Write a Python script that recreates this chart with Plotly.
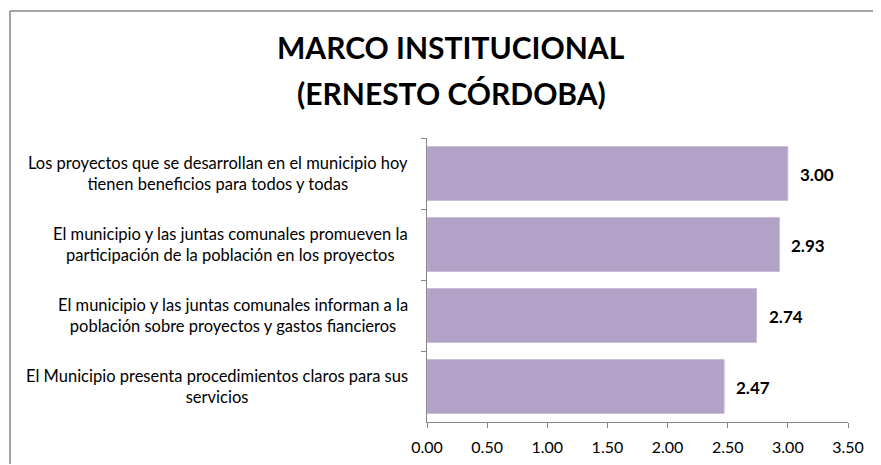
import plotly.graph_objects as go

categories = [
    "Los proyectos que se desarrollan en el municipio hoy<br>tienen beneficios para todos y todas",
    "El municipio y las juntas comunales promueven la<br>participación de la población en los proyectos",
    "El municipio y las juntas comunales informan a la<br>población sobre proyectos y gastos fiancieros",
    "El Municipio presenta procedimientos claros para sus<br>servicios",
]
values = [3.00, 2.93, 2.74, 2.47]
x_ticks = [0, 0.5, 1.0, 1.5, 2.0, 2.5, 3.0, 3.5]
x_tick_labels = ["0.00", "0.50", "1.00", "1.50", "2.00", "2.50", "3.00", "3.50"]
title_lines = ["MARCO INSTITUCIONAL", "(ERNESTO CÓRDOBA)"]

FONT = "Lato"
OFF = 8  # page body margin offset
W, H = 881 - OFF, 465 - OFF
L, R, T = 427 - OFF, 33, 138 - OFF
B = H - T - (422 - 138)
pw = W - L - R
ph = H - T - B


def py(ypix):
    """figure pixel y (from top) -> paper y"""
    return 1 + (T - ypix) / ph


def px(xpix):
    return (xpix - L) / pw


fig = go.Figure()
fig.add_trace(go.Bar(
    x=values,
    y=categories,
    orientation="h",
    marker=dict(color="#B2A2C7", line=dict(color="#C9BDD9", width=1)),
    width=0.76,
    hoverinfo="skip",
))

annotations = []
for c, v in zip(categories, values):
    annotations.append(dict(
        x=v, y=c, xref="x", yref="y", text=f"<b>{v:.2f}</b>",
        showarrow=False, xanchor="left", yanchor="middle", xshift=10, yshift=-1,
        font=dict(family=FONT, size=17, color="#000000"),
    ))
    annotations.append(dict(
        x=0, y=c, xref="paper", yref="y", text=c,
        showarrow=False, xanchor="right", yanchor="middle", align="center",
        xshift=-17, yshift=0,
        font=dict(family=FONT, size=16.5, color="#000000"),
    ))

for line, yc in zip(title_lines, [47 - OFF, 93 - OFF]):
    annotations.append(dict(
        x=px(451 - OFF), y=py(yc), xref="paper", yref="paper",
        text=f"<b>{line}</b>", showarrow=False,
        xanchor="center", yanchor="middle",
        font=dict(family=FONT, size=30, color="#000000"),
    ))

frame = dict(color="#868686", width=1.5)
fig.add_shape(type="line", xref="paper", yref="paper",
              x0=px(10 - OFF), x1=px(W - 2), y0=py(11 - OFF), y1=py(11 - OFF),
              line=frame, layer="below")
fig.add_shape(type="line", xref="paper", yref="paper",
              x0=px(10 - OFF), x1=px(10 - OFF), y0=py(11 - OFF), y1=py(H - 1),
              line=frame, layer="below")

fig.update_layout(
    width=W, height=H,
    margin=dict(l=L, r=R, t=T, b=B, pad=0),
    paper_bgcolor="white", plot_bgcolor="white",
    showlegend=False,
    xaxis=dict(
        range=[0, 3.5], tickvals=x_ticks, ticktext=x_tick_labels,
        showgrid=False, zeroline=False, showline=True, linecolor="#868686", linewidth=1,
        ticks="outside", ticklen=5, tickcolor="#868686", ticklabelstandoff=6,
        tickfont=dict(family=FONT, size=16, color="#000000"),
        fixedrange=True, automargin=False,
    ),
    yaxis=dict(
        type="category", autorange="reversed",
        showgrid=False, zeroline=False, showline=True, linecolor="#868686", linewidth=1,
        ticks="outside", ticklen=5, tickcolor="#868686", tickson="boundaries",
        showticklabels=False, fixedrange=True, automargin=False,
    ),
    annotations=annotations,
)

fig.write_html("out.html")
